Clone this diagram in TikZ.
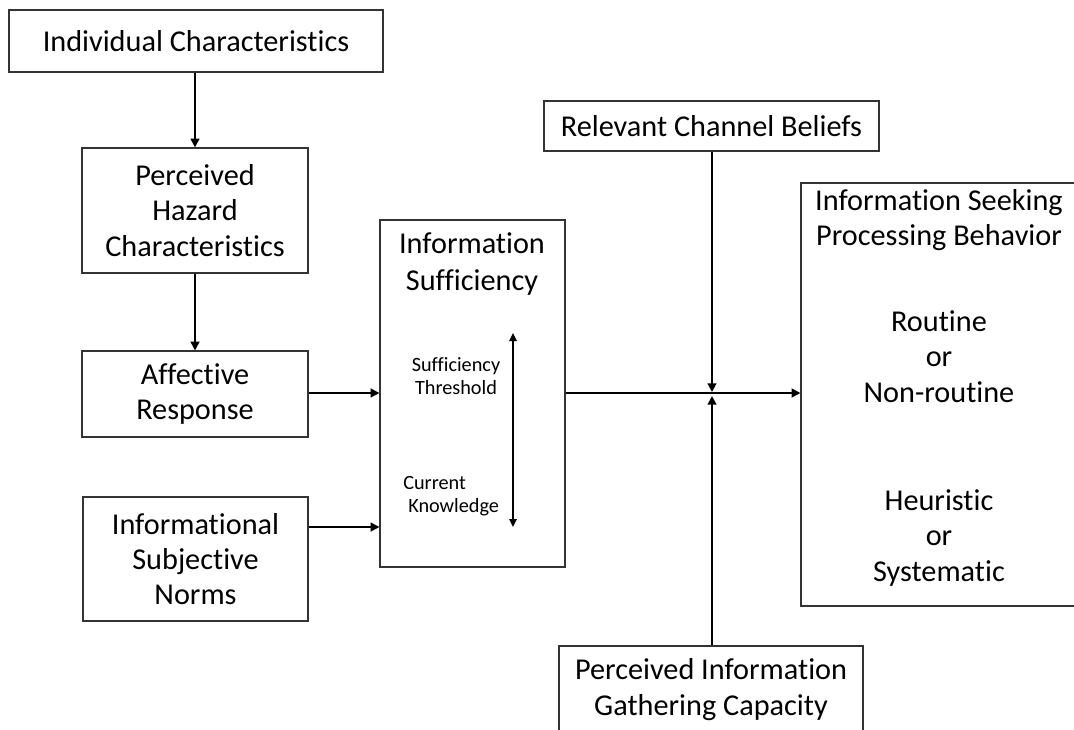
\documentclass[tikz,border=0pt]{standalone}
\usepackage{fontspec}
\setmainfont{Carlito}[Ligatures=NoCommon]
\usetikzlibrary{arrows.meta}
\tikzset{
  box/.style={draw=black!80, line width=0.9pt, fill=white, align=center,
    inner sep=0pt, font=\fontsize{22.7}{26.5}\selectfont},
  txt/.style={align=center, inner sep=0pt, font=\fontsize{22.7}{26.5}\selectfont},
  small/.style={inner sep=0pt, font=\fontsize{15.2}{17.3}\selectfont},
  arr/.style={line width=1.5pt, -{Triangle[length=6.5pt,width=6.5pt]}},
  dbl/.style={line width=1.1pt, {Triangle[length=6pt,width=5.5pt]}-{Triangle[length=6pt,width=5.5pt]}}
}
\begin{document}
\begin{tikzpicture}[x=0.75pt,y=-0.75pt]
\useasboundingbox (0,0) rectangle (1074,729);
\clip (0,0) rectangle (1074,729);

% boxes on the left
\node[box, minimum width={374*0.75pt}, minimum height={62*0.75pt}] (ic) at (196,41) {Individual Characteristics};
\node[box, minimum width={226*0.75pt}, minimum height={125*0.75pt}] (phc) at (195,210.5) {Perceived\\Hazard\\Characteristics};
\node[box, minimum width={226*0.75pt}, minimum height={86*0.75pt}] (ar) at (195,394) {Affective\\Response};
\node[box, minimum width={225*0.75pt}, minimum height={124*0.75pt}] (isn) at (195.5,559) {Informational\\Subjective\\Norms};

% central box with its threshold scale
\node[box, minimum width={185*0.75pt}, minimum height={347*0.75pt}] (is) at (472.5,393.5) {};
\node[txt] (istitle) at (472,264) {Information\\[1.5pt]Sufficiency};
\node[small, align=center] (st) at (456,376.5) {Sufficiency\\Threshold};
\node[small, align=left, anchor=west] (ck) at (403,496.5) {Current\\\hspace*{3.75pt}Knowledge};
\coordinate (scTop) at (513,333);
\coordinate (scBot) at (513,527);
\draw[dbl] (scTop) -- (scBot);

% channel beliefs and gathering capacity
\node[box, minimum width={335*0.75pt}, minimum height={50*0.75pt}] (rcb) at (711.5,126) {Relevant Channel Beliefs};
\node[box, minimum width={304*0.75pt}, minimum height={89*0.75pt}] (pigc) at (711,690.5) {};
\node[txt] (pigctext) at (711,689.5) {Perceived Information\\Gathering Capacity};

% outcome box, running past the right edge
\node[box, minimum width={300*0.75pt}, minimum height={423*0.75pt}] (ispb) at (951,394.5) {};
\node[txt] (ispb1) at (939,220) {Information Seeking\\Processing Behavior};
\node[txt] (ispb2) at (939,356.5) {Routine\\or\\Non-routine};
\node[txt] (ispb3) at (939,538) {Heuristic\\or\\Systematic};

% connectors
\coordinate (jn) at (712,393);
\draw[arr] (ic.south -| 195,0) -- (phc.north -| 195,0);
\draw[arr] (phc.south -| 195,0) -- (ar.north -| 195,0);
\draw[arr] (ar.east |- 0,393) -- (is.west |- 0,393);
\draw[arr] (isn.east |- 0,527) -- (is.west |- 0,527);
\draw[arr] (is.east |- 0,393) -- (ispb.west |- 0,393);
\draw[arr] (rcb.south -| jn) -- ([yshift=0.75pt]jn);
\draw[arr] (pigc.north -| jn) -- ([yshift=-2.25pt]jn);
\end{tikzpicture}
\end{document}
